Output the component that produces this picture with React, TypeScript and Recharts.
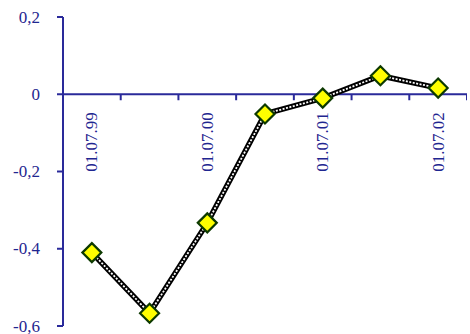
import React from "react";
import { ComposedChart, Line, Scatter, XAxis, YAxis, ReferenceLine } from "recharts";

const categories = ["01.07.99", "01.01.00", "01.07.00", "01.01.01", "01.07.01", "01.01.02", "01.07.02"];
const values = [-0.41, -0.567, -0.333, -0.051, -0.01, 0.048, 0.016];
const yTicks = [-0.6, -0.4, -0.2, 0, 0.2];
const labeledCategories = ["01.07.99", "01.07.00", "01.07.01", "01.07.02"];

const AXIS = "#2a2a9a";
const TEXT = "#1f2690";
const FONT = "Liberation Serif, Times New Roman, DejaVu Serif, serif";

const lineData = categories.map((c, i) => ({ pos: i + 0.5, value: values[i], cat: c }));
const boundaryData = categories.map((_, i) => ({ pos: i, value: 0 })).concat([{ pos: categories.length, value: 0 }]);
const labelData = categories
  .map((c, i) => ({ pos: i + 0.5, value: 0, label: c }))
  .filter((d) => labeledCategories.includes(d.label));

const fmt = (v: number) => (v === 0 ? "0" : v.toFixed(1).replace(".", ","));

const Diamond = (props: any) => {
  const { cx, cy } = props;
  if (cx == null || cy == null) return null;
  const r = 9.5;
  return (
    <polygon
      points={`${cx},${cy - r} ${cx + r},${cy} ${cx},${cy + r} ${cx - r},${cy}`}
      fill="#ffff00"
      stroke="#0d3a00"
      strokeWidth={2.2}
    />
  );
};

const TickMark = (props: any) => {
  const { cx, cy } = props;
  return <line x1={cx} x2={cx} y1={cy} y2={cy + 6} stroke={AXIS} strokeWidth={2} />;
};

const TickLabel = (props: any) => {
  const { cx, cy, payload } = props;
  const y = cy + 18;
  return (
    <text
      x={cx}
      y={y}
      transform={`rotate(-90, ${cx}, ${y})`}
      textAnchor="end"
      dominantBaseline="central"
      fill={TEXT}
      style={{ fontFamily: FONT, fontSize: 17 }}
    >
      {payload.label}
    </text>
  );
};

const YTick = (props: any) => {
  const { x, y, payload } = props;
  return (
    <text x={x} y={y} textAnchor="end" dominantBaseline="central" fill={TEXT} style={{ fontFamily: FONT, fontSize: 17 }}>
      {fmt(payload.value)}
    </text>
  );
};

export default function App() {
  return (
    <div style={{ position: "absolute", left: 0, top: 0, width: 470, height: 334, background: "#fff" }}>
      <ComposedChart width={470} height={334} data={lineData} margin={{ top: 17, right: 3, bottom: 8, left: 0 }}>
        <XAxis dataKey="pos" type="number" domain={[0, 7]} hide allowDataOverflow />
        <YAxis
          dataKey="value"
          type="number"
          domain={[-0.6, 0.2]}
          ticks={yTicks}
          interval={0}
          width={63}
          axisLine={{ stroke: AXIS, strokeWidth: 2 }}
          tickLine={{ stroke: AXIS, strokeWidth: 2 }}
          tickSize={6}
          tickMargin={17}
          tick={<YTick />}
          allowDataOverflow
        />
        <ReferenceLine y={0} stroke={AXIS} strokeWidth={2} />
        <Scatter data={boundaryData} dataKey="value" shape={TickMark} isAnimationActive={false} />
        <Scatter data={labelData} dataKey="value" shape={TickLabel} isAnimationActive={false} />
        <Line
          dataKey="value"
          stroke="#000"
          strokeWidth={5.5}
          dot={false}
          activeDot={false}
          isAnimationActive={false}
        />
        <Line
          dataKey="value"
          stroke="#fff"
          strokeWidth={1.8}
          strokeDasharray="2 1.5"
          dot={<Diamond />}
          activeDot={false}
          isAnimationActive={false}
        />
      </ComposedChart>
    </div>
  );
}
